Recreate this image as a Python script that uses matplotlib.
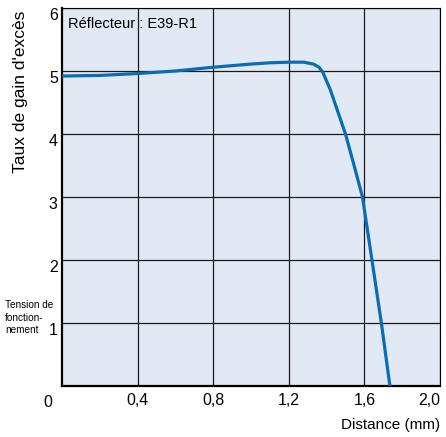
import matplotlib.pyplot as plt

plt.rcParams['font.family'] = ['Liberation Sans', 'DejaVu Sans']

# lecture de la courbe
distance = [0.0, 0.2, 0.4, 0.6, 0.8, 1.0, 1.1, 1.2, 1.28, 1.33, 1.36, 1.38,
            1.42, 1.46, 1.5, 1.55, 1.59, 1.64, 1.69, 1.735]
gain = [4.92, 4.93, 4.96, 5.0, 5.06, 5.11, 5.13, 5.14, 5.14, 5.11, 5.06, 4.98,
        4.7, 4.35, 4.0, 3.45, 3.0, 2.0, 1.0, 0.0]
xticks = [0.4, 0.8, 1.2, 1.6, 2.0]
xlabels = ['0,4', '0,8', '1,2', '1,6', '2,0']
yticks = [1, 2, 3, 4, 5, 6]
tension_lines = ['Tension de', 'fonction-', 'nement']

fig = plt.figure(figsize=(4.46, 4.37), dpi=100)
ax = fig.add_axes([0.139, 0.1167, 0.8475, 0.865])
ax.set_facecolor('#e1e9f5')

ax.plot(distance, gain, color='#0a6db4', lw=2.3, solid_capstyle='butt', zorder=3)

ax.set_xlim(0, 2.0)
ax.set_ylim(0, 6)
ax.set_xticks(xticks)
ax.set_xticklabels(xlabels, fontsize=11.5)
ax.get_xticklabels()[-1].set_ha('right')
ax.set_yticks(yticks)
ax.set_yticklabels([str(v) for v in yticks], fontsize=11.5)
# chiffres de l'axe y un peu sous les lignes
for lab in ax.get_yticklabels():
    lab.set_va('top')
ax.tick_params(axis='x', length=0, pad=5)
ax.tick_params(axis='y', length=0, pad=3)
ax.grid(True, color='#1a1a1a', lw=0.9)
ax.set_axisbelow(True)
for s in ['left', 'bottom']:
    ax.spines[s].set_linewidth(1.6)
for s in ['top', 'right']:
    ax.spines[s].set_linewidth(0.8)

ax.text(-0.026, -0.025, '0', transform=ax.transAxes, ha='right', va='top', fontsize=11.5)
ax.text(0.016, 0.975, 'Réflecteur : E39-R1', transform=ax.transAxes,
        ha='left', va='top', fontsize=10.5)

fig.text(0.047, 0.79, "Taux de gain d'excès", rotation=90, ha='center', va='center', fontsize=12.5)
for i, line in enumerate(tension_lines):
    fig.text(0.012, 0.302 - i * 0.029, line, ha='left', va='center', fontsize=7.2)
fig.text(0.987, 0.027, 'Distance (mm)', ha='right', va='center', fontsize=11)

fig.savefig('out.png', dpi=100)
